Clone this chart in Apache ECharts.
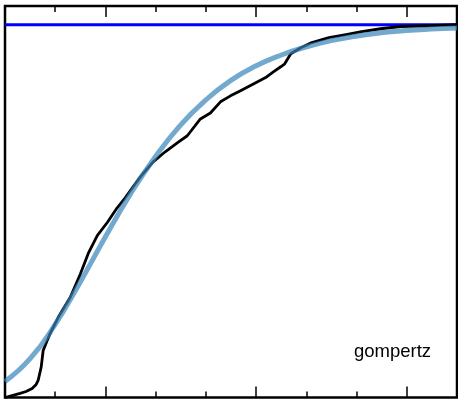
<!DOCTYPE html>
<html>
<head>
<meta charset="utf-8">
<script src="https://cdn.jsdelivr.net/npm/echarts@6/dist/echarts.min.js"></script>
<style>
  html, body { margin: 0; padding: 0; background: #fff; }
  #chart { width: 458px; height: 400px; }
</style>
</head>
<body>
<div id="chart"></div>
<script>
// empirical curve (black)
var empX = [0, 0.14, 0.30, 0.42, 0.54, 0.62, 0.66, 0.72, 0.76, 0.84, 0.90, 1.06, 1.30, 1.50, 1.66, 1.84,
  2.04, 2.23, 2.39, 2.69, 2.95, 3.19, 3.43, 3.63, 3.89, 4.09, 4.29, 4.49, 4.69, 5.03, 5.19, 5.35,
  5.49, 5.57, 5.69, 5.89, 6.11, 6.45, 6.79, 7.10, 7.48, 7.88, 8.44, 9.00];
var empY = [0, 0.005, 0.011, 0.016, 0.024, 0.035, 0.046, 0.081, 0.126, 0.153, 0.172, 0.215, 0.269, 0.331, 0.387, 0.435,
  0.470, 0.508, 0.535, 0.591, 0.632, 0.659, 0.683, 0.702, 0.747, 0.763, 0.793, 0.809, 0.823, 0.847, 0.858, 0.874,
  0.887, 0.895, 0.922, 0.938, 0.952, 0.965, 0.973, 0.981, 0.989, 0.995, 0.997, 1.0];

// gompertz fit (light blue)
var fitX = [0, 0.5, 1.0, 1.5, 2.0, 2.49, 2.99, 3.49, 3.99, 4.49, 4.99, 5.49, 5.99, 6.49, 6.98, 7.48, 7.98, 8.48, 9.0];
var fitY = [0.043, 0.104, 0.196, 0.310, 0.431, 0.544, 0.645, 0.730, 0.797, 0.850, 0.889, 0.918, 0.940, 0.957, 0.969, 0.978, 0.984, 0.988, 0.991];

// asymptote
var limitX = [0, 9];
var limitY = [1, 1];

var minorTicks = [1, 3, 4, 6, 7];
var majorTicks = [2, 5, 8];

function pairs(xs, ys) {
  return xs.map(function (x, i) { return [x, ys[i]]; });
}

function tickAxis(pos, values, len) {
  return {
    type: 'value', position: pos, min: 0, max: 9,
    axisLine: { show: false },
    axisLabel: { show: false },
    splitLine: { show: false },
    axisTick: {
      show: true, inside: true, length: len, customValues: values,
      lineStyle: { color: '#000', width: 1.5 }
    }
  };
}

var chart = echarts.init(document.getElementById('chart'));
chart.setOption({
  animation: false,
  backgroundColor: '#fff',
  grid: {
    left: 5, right: 1, top: 6, bottom: 2.5,
    show: true, borderColor: '#000', borderWidth: 2.5, backgroundColor: 'transparent'
  },
  xAxis: [
    tickAxis('bottom', minorTicks, 6),
    tickAxis('bottom', majorTicks, 11),
    tickAxis('top', minorTicks, 6),
    tickAxis('top', majorTicks, 11)
  ],
  yAxis: {
    type: 'value', min: 0, max: 1.05,
    axisLine: { show: false }, axisTick: { show: false },
    axisLabel: { show: false }, splitLine: { show: false }
  },
  graphic: [{
    type: 'text', left: 354, top: 342,
    style: { text: 'gompertz', fontSize: 18.5, fontFamily: 'Liberation Sans, Arial, sans-serif', fill: '#000' }
  }],
  series: [
    {
      type: 'line', data: pairs(limitX, limitY), showSymbol: false,
      lineStyle: { color: '#0000ff', width: 3 }, z: 1
    },
    {
      type: 'line', data: pairs(empX, empY), showSymbol: false,
      lineStyle: { color: '#000', width: 2.8, join: 'round' }, z: 2
    },
    {
      type: 'line', data: pairs(fitX, fitY), showSymbol: false, smooth: 0.5,
      lineStyle: { color: '#3884ba', width: 5, opacity: 0.7 }, z: 3
    }
  ]
});
</script>
</body>
</html>
